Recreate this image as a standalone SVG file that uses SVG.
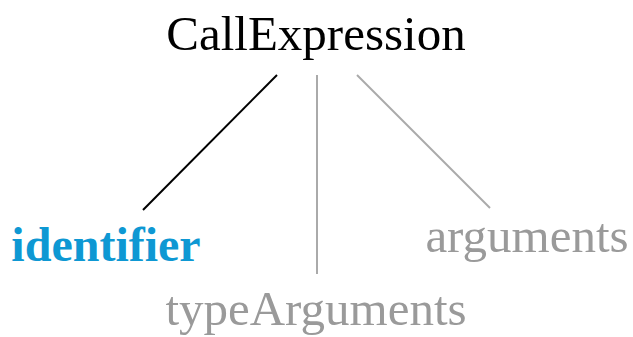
<svg xmlns="http://www.w3.org/2000/svg" width="633" height="337" viewBox="0 0 633 337">
<style>
.t{font-family:"Liberation Serif","Times New Roman",serif;font-size:49px;text-anchor:middle}
.g{fill:#9a9a9a}
.e{stroke-width:2;fill:none}
</style>
<rect width="633" height="337" fill="#fff"/>
<g id="connectors">
<line class="e" x1="277" y1="75" x2="143" y2="210" stroke="#000"/>
<line class="e" x1="317" y1="75" x2="317" y2="274" stroke="#aaa"/>
<line class="e" x1="357" y1="75" x2="490" y2="208" stroke="#aaa"/>
</g>
<g id="CallExpression"><text class="t" x="316" y="50" fill="#000">CallExpression</text></g>
<g id="identifier"><text class="t" x="106" y="261" font-weight="bold" style="font-size:48px" fill="#0e98d3">identifier</text></g>
<g id="arguments"><text class="t g" x="527" y="252">arguments</text></g>
<g id="typeArguments"><text class="t g" x="316" y="325">typeArguments</text></g>
</svg>
